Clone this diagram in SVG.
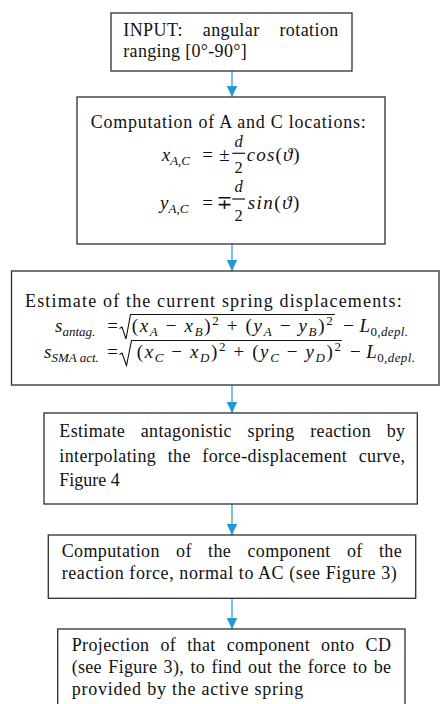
<svg xmlns="http://www.w3.org/2000/svg" width="440" height="704" viewBox="0 0 440 704">
<style>
text{font-family:"Liberation Serif","DejaVu Serif",serif;font-size:18px;fill:#111}
.box{fill:#fff;stroke:#2e2e2e;stroke-width:1.3}
.con{stroke:#1f9ad6;stroke-width:1.2;fill:none;marker-end:url(#ah)}
.m{font-size:19px}
.f{font-size:16.5px}
.i{font-style:italic}
.s{font-size:13px;font-style:italic}
.su{font-size:13px}
.bar{stroke:#111;stroke-width:1.2}
.rad{fill:none;stroke:#111;stroke-width:1.1;stroke-linejoin:miter}
</style>
<defs>
<marker id="ah" markerUnits="userSpaceOnUse" markerWidth="11" markerHeight="11" refX="11" refY="5.3" orient="auto">
<path d="M0,0 L11,5.3 L0,10.6 z" fill="#1f9ad6"/>
</marker>
</defs>
<rect width="440" height="704" fill="#fff"/>

<g id="connectors">
<line class="con" x1="232" y1="71" x2="232" y2="97"/>
<line class="con" x1="232" y1="244" x2="232" y2="271"/>
<line class="con" x1="232" y1="385" x2="232" y2="413"/>
<line class="con" x1="232" y1="504" x2="232" y2="535"/>
<line class="con" x1="232" y1="598" x2="232" y2="629"/>
</g>

<g id="node1">
<rect class="box" x="111" y="13" width="241" height="58"/>
<text x="123.3" y="36" textLength="215" word-spacing="15">INPUT: angular rotation</text>
<text x="123.3" y="57" textLength="123.4">ranging [0°-90°]</text>
</g>

<g id="node2">
<rect class="box" x="77" y="97" width="308" height="147"/>
<text x="90.7" y="128" textLength="275">Computation of A and C locations:</text>
<text class="m i" x="161.7" y="161">x<tspan class="s" font-size="14" dy="4">A,C</tspan></text>
<text class="m" x="207.5" y="161" text-anchor="middle">=</text>
<text class="m" x="224.5" y="161" text-anchor="middle">±</text>
<text class="f i" x="238.6" y="147" text-anchor="middle">d</text>
<line class="bar" x1="232.3" y1="153.3" x2="245" y2="153.3"/>
<text class="f" x="238.6" y="172.5" text-anchor="middle">2</text>
<text class="m" x="246.7" y="161" textLength="53"><tspan class="i">cos</tspan>(<tspan class="i">ϑ</tspan>)</text>
<text class="m i" x="160" y="209">y<tspan class="s" font-size="14" dy="4">A,C</tspan></text>
<text class="m" x="207.5" y="209" text-anchor="middle">=</text>
<text class="m" x="224.5" y="209" text-anchor="middle">∓</text>
<text class="f i" x="238.6" y="191.5" text-anchor="middle">d</text>
<line class="bar" x1="232.3" y1="199" x2="245" y2="199"/>
<text class="f" x="238.6" y="220.5" text-anchor="middle">2</text>
<text class="m" x="247.7" y="209" textLength="51.6"><tspan class="i">sin</tspan>(<tspan class="i">ϑ</tspan>)</text>
</g>

<g id="node3">
<rect class="box" x="11.5" y="271" width="427.5" height="114"/>
<text x="25" y="306.7" textLength="376.7">Estimate of the current spring displacements:</text>
<text class="m i" x="55" y="332">s<tspan class="s" font-size="15" dy="3.5">antag.</tspan></text>
<text class="m" x="112.5" y="332" text-anchor="middle">=</text>
<polyline class="rad" points="119.5,328.5 122,327 126,339 130.5,314.5 335,314.5"/>
<text class="m" x="131.7" y="332" textLength="201">(<tspan class="i">x</tspan><tspan class="s" dy="4">A</tspan><tspan dy="-4"> − </tspan><tspan class="i">x</tspan><tspan class="s" dy="4">B</tspan><tspan dy="-4">)</tspan><tspan class="su" dy="-7">2</tspan><tspan dy="7"> + (</tspan><tspan class="i">y</tspan><tspan class="s" dy="4">A</tspan><tspan dy="-4"> − </tspan><tspan class="i">y</tspan><tspan class="s" dy="4">B</tspan><tspan dy="-4">)</tspan><tspan class="su" dy="-7">2</tspan></text>
<text class="m" x="343.3" y="332" textLength="64.7">− <tspan class="i">L</tspan><tspan class="su" dy="4">0</tspan><tspan class="s">,depl.</tspan></text>
<text class="m i" x="44" y="358">s<tspan class="s" font-size="14.5" dy="3.5">SMA act.</tspan></text>
<text class="m" x="112.5" y="358" text-anchor="middle">=</text>
<polyline class="rad" points="119.5,354.5 122,353 126.5,365.5 131.5,340.5 341.7,340.5"/>
<text class="m" x="136.7" y="358" textLength="204.3">(<tspan class="i">x</tspan><tspan class="s" dy="4">C</tspan><tspan dy="-4"> − </tspan><tspan class="i">x</tspan><tspan class="s" dy="4">D</tspan><tspan dy="-4">)</tspan><tspan class="su" dy="-7">2</tspan><tspan dy="7"> + (</tspan><tspan class="i">y</tspan><tspan class="s" dy="4">C</tspan><tspan dy="-4"> − </tspan><tspan class="i">y</tspan><tspan class="s" dy="4">D</tspan><tspan dy="-4">)</tspan><tspan class="su" dy="-7">2</tspan></text>
<text class="m" x="350" y="358" textLength="65">− <tspan class="i">L</tspan><tspan class="su" dy="4">0</tspan><tspan class="s">,depl.</tspan></text>
</g>

<g id="node4">
<rect class="box" x="44" y="413" width="373.3" height="91"/>
<text x="59.3" y="436.5" textLength="345.7" word-spacing="10.8">Estimate antagonistic spring reaction by</text>
<text x="59.3" y="461.5" textLength="345.7" word-spacing="6.6">interpolating the force-displacement curve,</text>
<text x="59.3" y="486">Figure 4</text>
</g>

<g id="node5">
<rect class="box" x="48.3" y="535" width="367.4" height="63.3"/>
<text x="61.7" y="557.3" textLength="340" word-spacing="11.4">Computation of the component of the</text>
<text x="61.7" y="579.3" textLength="335">reaction force, normal to AC (see Figure 3)</text>
</g>

<g id="node6">
<rect class="box" x="57.7" y="629" width="347.3" height="90"/>
<text x="71.7" y="651" textLength="319.3" word-spacing="6.2">Projection of that component onto CD</text>
<text x="71.7" y="673" textLength="319.3" word-spacing="1.6">(see Figure 3), to find out the force to be</text>
<text x="71.7" y="695" textLength="231.6">provided by the active spring</text>
</g>
</svg>
